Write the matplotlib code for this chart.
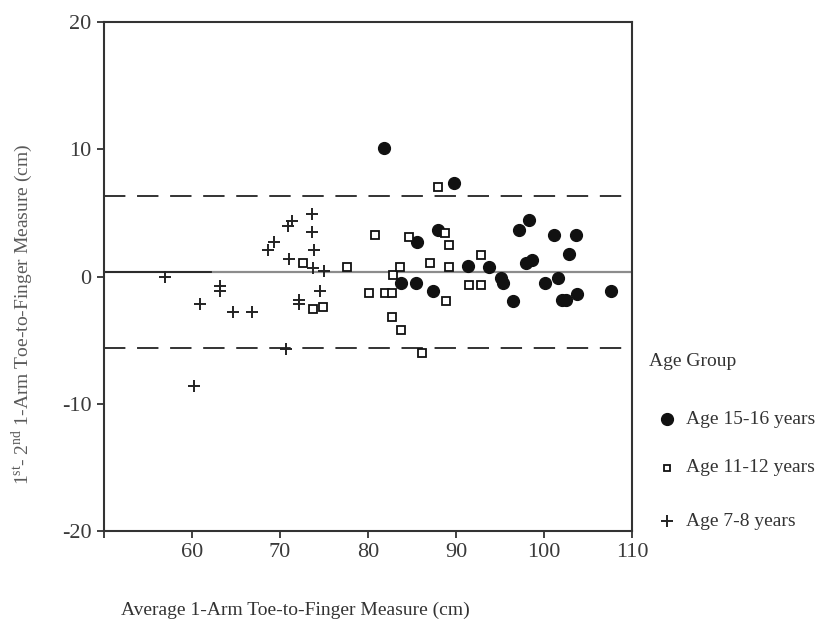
import matplotlib
matplotlib.use('Agg')

import matplotlib.pyplot as plt
from matplotlib.lines import Line2D

plt.rcParams['font.family'] = 'Liberation Serif'
plt.rcParams['mathtext.fontset'] = 'custom'
plt.rcParams['mathtext.rm'] = 'Liberation Serif'
plt.rcParams['axes.unicode_minus'] = False

# Age 15-16 years
older_x = [81.85, 88.0, 85.6, 83.8, 85.4, 87.4, 89.8, 91.4, 93.7, 95.1, 95.3, 96.5, 97.2,
           98.3, 98.0, 98.6, 100.1, 101.1, 101.6, 102.0, 102.5, 102.8, 103.6, 103.8, 107.6]
older_y = [10.13, 3.7, 2.76, -0.5, -0.5, -1.1, 7.38, 0.81, 0.73, -0.13, -0.5, -1.94, 3.7,
           4.49, 1.05, 1.31, -0.5, 3.31, -0.13, -1.84, -1.84, 1.79, 3.31, -1.36, -1.1]

# Age 11-12 years
middle_x = [72.6, 73.8, 74.9, 77.6, 80.1, 80.8, 81.9, 82.7, 82.8, 83.6, 82.7, 83.8,
            84.7, 87.0, 86.1, 87.9, 88.8, 89.2, 89.2, 88.9, 91.5, 92.8, 92.8]
middle_y = [1.08, -2.57, -2.36, 0.73, -1.31, 3.28, -1.31, -1.31, 0.13, 0.73, -3.2, -4.17,
            3.15, 1.08, -6.0, 7.03, 3.44, 2.5, 0.73, -1.94, -0.66, -0.66, 1.71]

# Age 7-8 years
young_x = [56.9, 60.9, 63.2, 63.2, 64.7, 66.8, 60.2, 68.6, 69.3, 70.9, 71.4, 73.6, 73.6,
           73.9, 71.0, 73.7, 75.0, 74.5, 72.2, 72.2, 70.7]
young_y = [-0.05, -2.15, -0.71, -1.1, -2.81, -2.81, -8.63, 2.1, 2.7, 4.0, 4.35, 4.93, 3.49,
           2.13, 1.39, 0.68, 0.47, -1.1, -1.84, -2.15, -5.7]

mean_diff = 0.35
upper_loa = 6.33
lower_loa = -5.65

groups = ['Age 15-16 years', 'Age 11-12 years', 'Age 7-8 years']

dark = '#333333'

fig = plt.figure(figsize=(8.16, 6.28), dpi=100)
ax = fig.add_axes([0.1275, 0.1545, 0.647, 0.81])

ax.axhline(mean_diff, color='#8c8c8c', lw=1.6, zorder=1)
ax.plot([50, 62.2], [mean_diff, mean_diff], color='#222222', lw=1.3, zorder=1)
ax.axhline(upper_loa, color=dark, lw=1.4, dashes=(11, 6), zorder=1)
ax.axhline(lower_loa, color=dark, lw=1.4, dashes=(11, 6), zorder=1)

ax.plot(older_x, older_y, 'o', ms=8.5, color='#111111', mec='#111111', zorder=3)
ax.plot(middle_x, middle_y, 's', ms=5.5, mfc='white', mec='#111111', mew=1.3, zorder=3)
ax.plot(young_x, young_y, '+', ms=8.5, color='#222222', mew=1.4, zorder=3)

ax.set_xlim(50, 110)
ax.set_ylim(-20, 20)
ax.set_xticks([50, 60, 70, 80, 90, 100, 110])
ax.set_xticklabels(['', '60', '70', '80', '90', '100', '110'])
ax.set_yticks([-20, -10, 0, 10, 20])
ax.tick_params(direction='out', length=5, width=1.3, color=dark,
               labelsize=16, labelcolor='#3a3a3a', pad=4)
for s in ax.spines.values():
    s.set_color(dark)
    s.set_linewidth(1.5)

fig.text(22 / 816, 0.5, r'1$^{\rm st}$- 2$^{\rm nd}$ 1-Arm Toe-to-Finger Measure (cm)',
         rotation=90, ha='center', va='center', fontsize=14, color='#5a5a5a')
fig.text(121 / 816, 1 - 610 / 628, 'Average 1-Arm Toe-to-Finger Measure (cm)',
         ha='left', va='center', fontsize=14, color=dark)

# legend
fig.text(649 / 816, 1 - 362 / 628, 'Age Group', ha='left', va='center', fontsize=14, color=dark)
leg_y = [419, 468, 521]
leg_styles = [dict(marker='o', ms=8.5, color='#111111'),
              dict(marker='s', ms=5, mfc='white', mec='#111111', mew=1.3),
              dict(marker='+', ms=9, color='#222222', mew=1.4)]
for lab, yy, st in zip(groups, leg_y, leg_styles):
    fy = 1 - yy / 628
    fig.add_artist(Line2D([667 / 816], [fy], linestyle='none', transform=fig.transFigure, **st))
    fig.text(686 / 816, fy, lab, ha='left', va='center', fontsize=14, color=dark)

plt.savefig('out.png', dpi=100)
